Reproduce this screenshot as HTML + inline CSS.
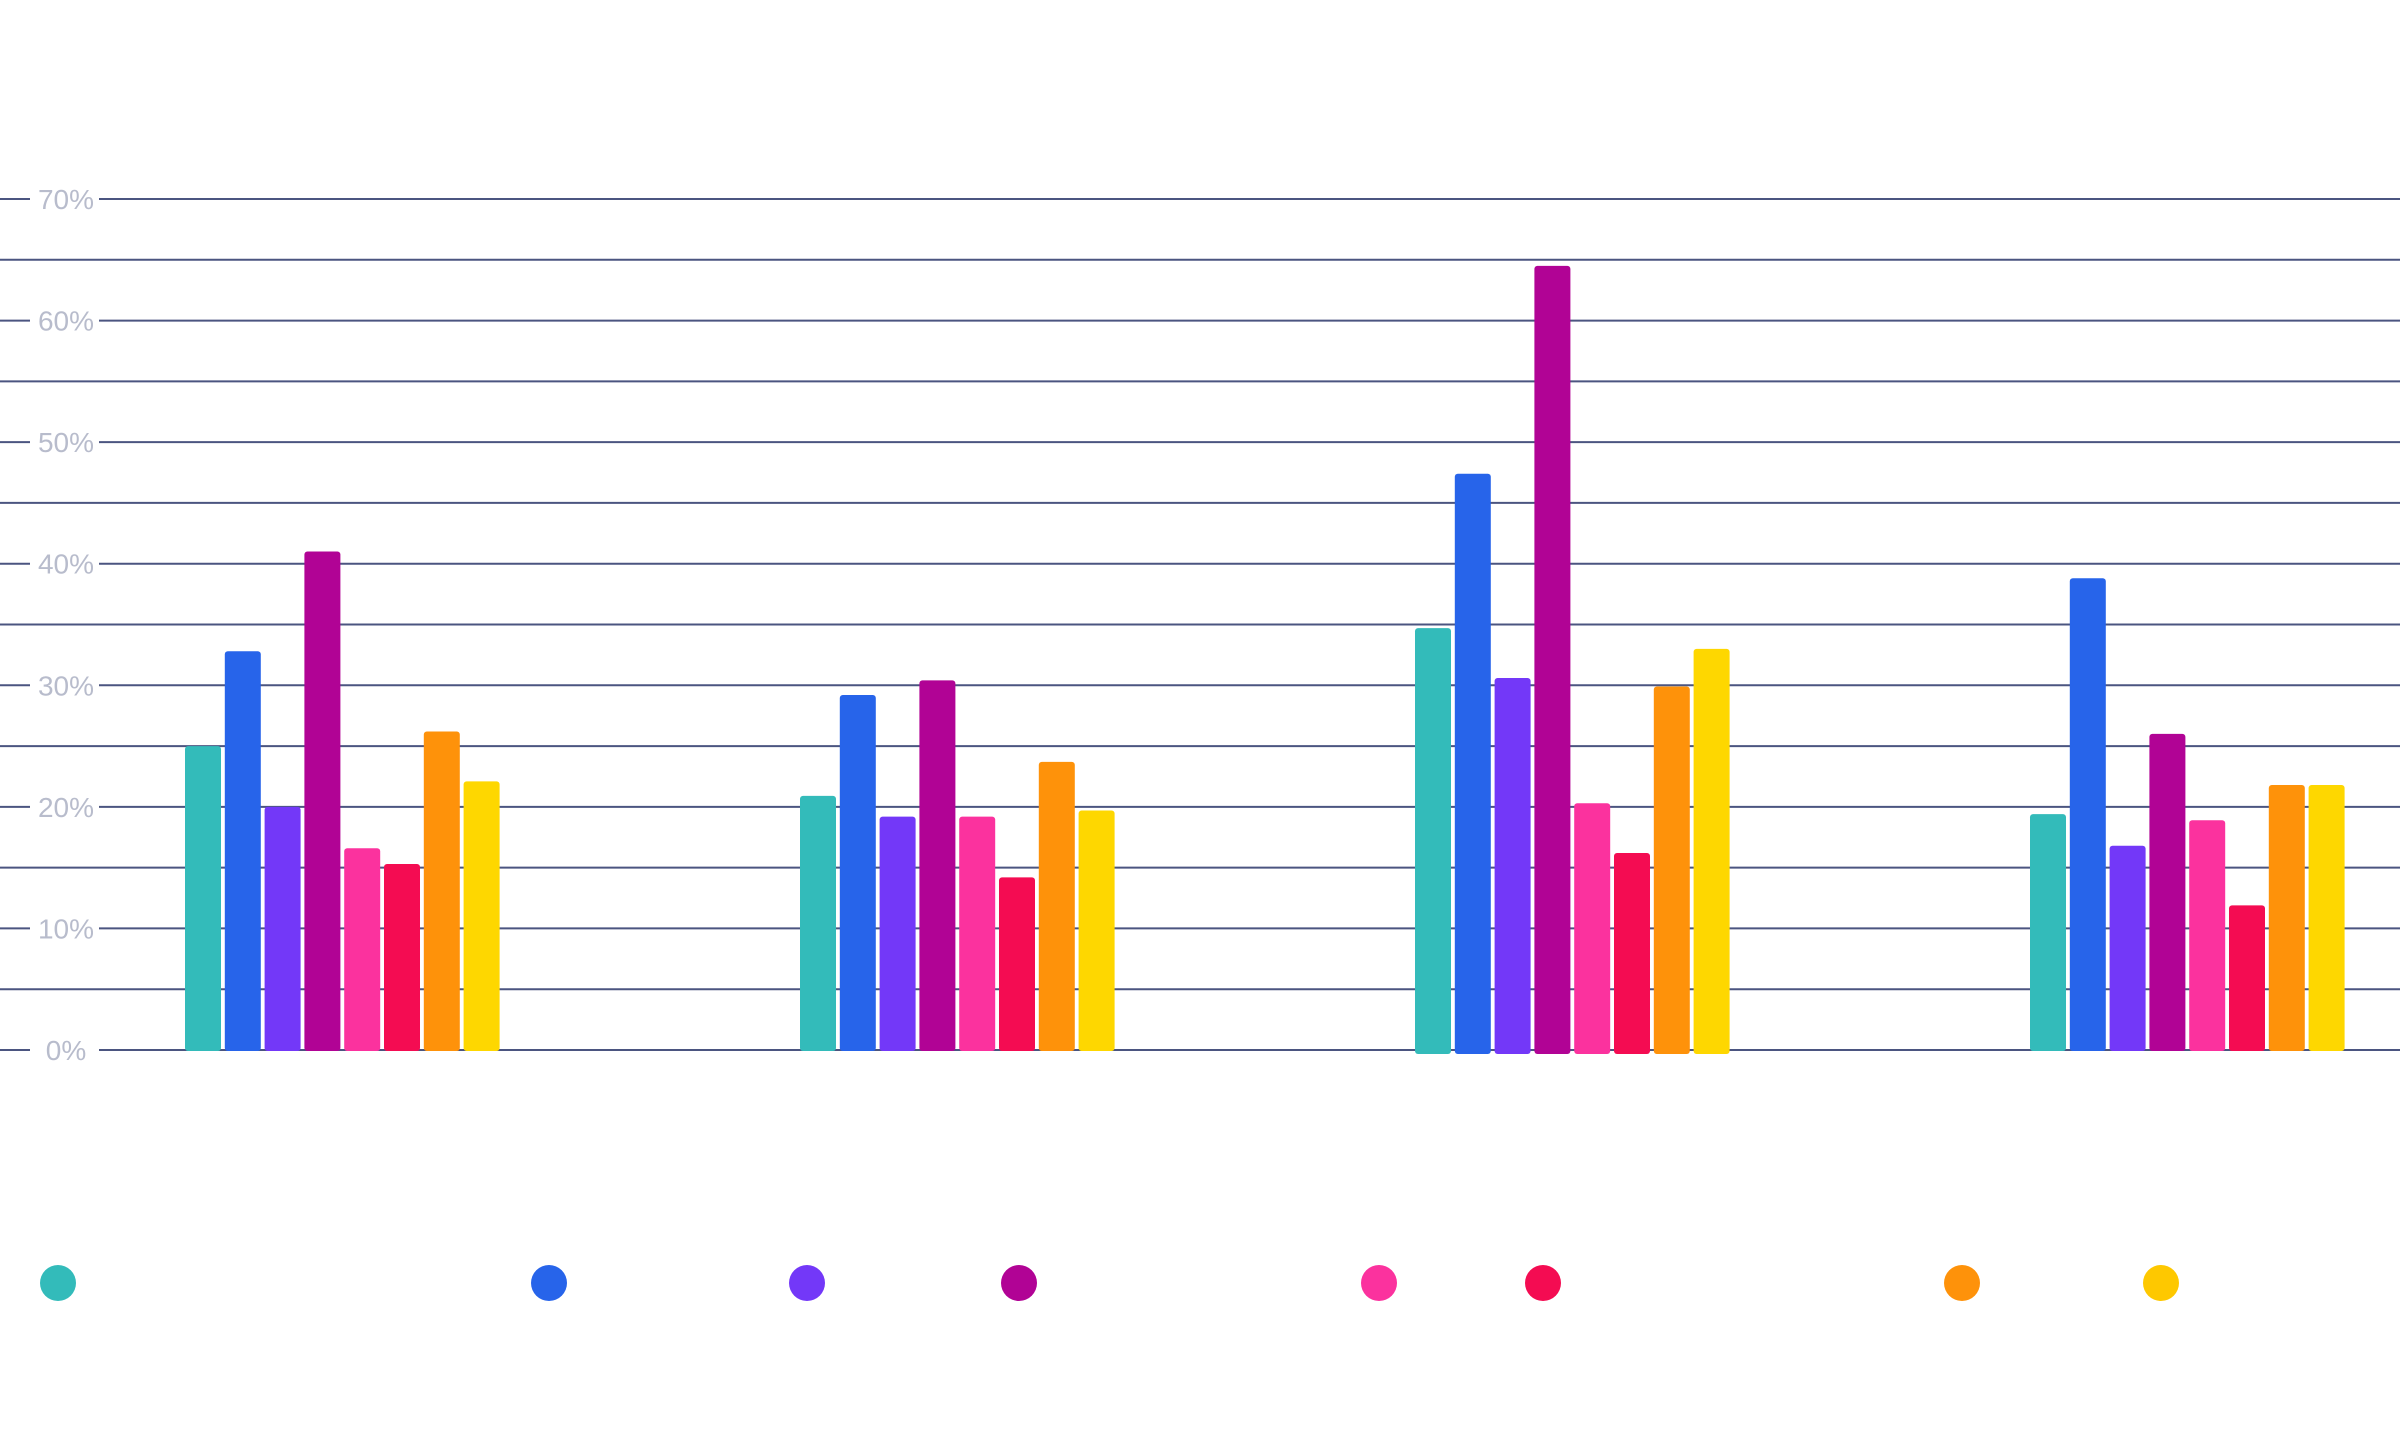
<!DOCTYPE html>
<html><head><meta charset="utf-8"><style>
html,body{margin:0;padding:0;background:#fff;}
svg{display:block;font-family:"Liberation Sans",sans-serif;}
</style></head><body>
<svg id="chart" width="2400" height="1440" viewBox="0 0 2400 1440" xmlns="http://www.w3.org/2000/svg">
<g id="grid"></g>
<g id="bars"></g>
<g id="legend"></g>
</svg>
<script>
const groups = ["Group 1","Group 2","Group 3","Group 4"];
const seriesNames = ["S1","S2","S3","S4","S5","S6","S7","S8"];
const s1 = [25, 20.9, 34.7, 19.4];
const s2 = [32.8, 29.2, 47.4, 38.8];
const s3 = [20, 19.2, 30.6, 16.8];
const s4 = [41, 30.4, 64.5, 26];
const s5 = [16.6, 19.2, 20.3, 18.9];
const s6 = [15.3, 14.2, 16.2, 11.9];
const s7 = [26.2, 23.7, 29.9, 21.8];
const s8 = [22.1, 19.7, 33, 21.8];
const series = [s1,s2,s3,s4,s5,s6,s7,s8];
const colors = ["#33bbba","#2764ea","#7338f8","#b10395","#fb329e","#f40c52","#fe920a","#fed700"];
const tickLabels = ["0%","10%","20%","30%","40%","50%","60%","70%"];
const tickValues = [0,10,20,30,40,50,60,70];

const NS="http://www.w3.org/2000/svg";
const y0=1050, y70=199;
function yScale(v){return y0-(v/70)*(y0-y70);}
const groupStart=185, groupStep=615, barStep=39.8, barW=36;
function xScale(g,s){return groupStart+g*groupStep+s*barStep;}

const grid=document.getElementById('grid');
for(let v=0;v<=70;v+=5){
  const y=yScale(v);
  const major=v%10===0;
  if(major){
    const t=document.createElementNS(NS,'line');
    t.setAttribute('x1',0);t.setAttribute('x2',30);t.setAttribute('y1',y);t.setAttribute('y2',y);
    t.setAttribute('stroke','#4b5580');t.setAttribute('stroke-width','2');
    
    
    grid.appendChild(t);
    const l=document.createElementNS(NS,'line');
    l.setAttribute('x1',99);l.setAttribute('x2',2400);l.setAttribute('y1',y);l.setAttribute('y2',y);
    l.setAttribute('stroke','#4b5580');l.setAttribute('stroke-width','2');
    
    
    grid.appendChild(l);
    const tx=document.createElementNS(NS,'text');
    tx.setAttribute('x',66);tx.setAttribute('y',y+10);tx.setAttribute('text-anchor','middle');
    tx.setAttribute('font-size','28');tx.setAttribute('fill','#b8bccc');
    tx.textContent=tickLabels[tickValues.indexOf(v)];
    
    
    grid.appendChild(tx);
  } else {
    const l=document.createElementNS(NS,'line');
    l.setAttribute('x1',0);l.setAttribute('x2',2400);l.setAttribute('y1',y);l.setAttribute('y2',y);
    l.setAttribute('stroke','#4b5580');l.setAttribute('stroke-width','2');
    
    
    grid.appendChild(l);
  }
}
const bars=document.getElementById('bars');
groups.forEach((g,gi)=>{
  series.forEach((arr,si)=>{
    const v=arr[gi];
    const y=yScale(v);
    const extra = gi===2 ? 4 : 1;
    const r=document.createElementNS(NS,'rect');
    r.setAttribute('x',xScale(gi,si));r.setAttribute('y',y);
    r.setAttribute('width',barW);r.setAttribute('height',y0-y+extra);
    r.setAttribute('rx',3);r.setAttribute('fill',colors[si]);
    
    
    bars.appendChild(r);
  });
});
const legendX=[58,549,807,1019,1379,1543,1962,2161];
const legend=document.getElementById('legend');
seriesNames.forEach((n,i)=>{
  const c=document.createElementNS(NS,'circle');
  c.setAttribute('cx',legendX[i]);c.setAttribute('cy',1283);c.setAttribute('r',18);
  c.setAttribute('fill',i===7?'#fec800':colors[i]);
  
  
  legend.appendChild(c);
});
</script>
</body></html>
